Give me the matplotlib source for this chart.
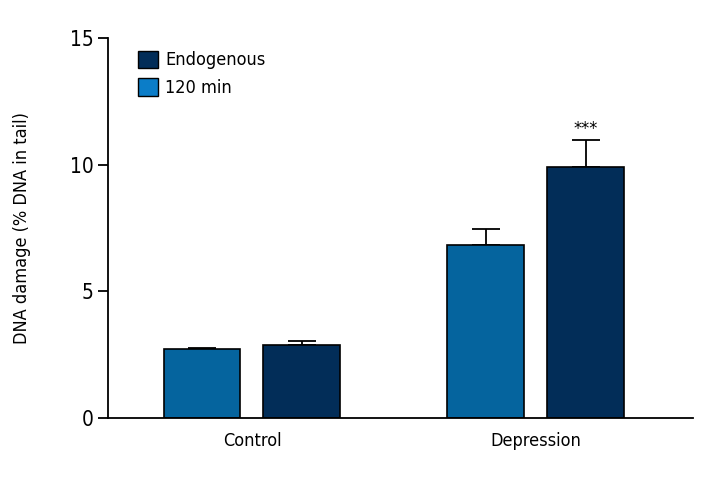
import matplotlib.pyplot as plt
from matplotlib.patches import Patch
import numpy as np

plt.rcParams['font.family'] = ['DejaVu Sans']
plt.rcParams['font.stretch'] = 'condensed'

groups = ["Control", "Depression"]
series = ["120 min", "Endogenous"]
values_120 = [2.72, 6.83]
err_120 = [0.06, 0.65]
values_endo = [2.88, 9.91]
err_endo = [0.18, 1.08]
stars = ["", "***"]

col_120 = "#05649E"
col_endo = "#022D58"
col_legend_120 = "#0B7DC8"


def main():
    fig = plt.figure(figsize=(7.2, 4.8), dpi=100)
    ax = fig.add_axes([0.15, 0.129, 0.8125, 0.792])

    x = np.arange(len(groups))
    w = 0.271
    off = 0.176
    ax.bar(x - off, values_120, w, color=col_120, edgecolor="black", linewidth=1.2, zorder=2)
    ax.bar(x + off, values_endo, w, color=col_endo, edgecolor="black", linewidth=1.2, zorder=2)
    ax.errorbar(x - off, values_120, yerr=[np.zeros(len(groups)), err_120], fmt="none",
                ecolor="black", elinewidth=1.3, capsize=10, capthick=1.3, zorder=1)
    ax.errorbar(x + off, values_endo, yerr=[np.zeros(len(groups)), err_endo], fmt="none",
                ecolor="black", elinewidth=1.3, capsize=10, capthick=1.3, zorder=1)

    # significance marks
    for i, s in enumerate(stars):
        if s:
            ax.text(x[i] + off, values_endo[i] + err_endo[i] + 0.05, s,
                    ha="center", va="bottom", fontsize=13)

    ax.set_xlim(-0.507, 1.553)
    ax.set_ylim(0, 15)
    ax.set_yticks([0, 5, 10, 15])
    ax.set_xticks(x)
    ax.set_xticklabels(groups, fontsize=13)
    ax.tick_params(axis="x", length=0, pad=10)
    ax.tick_params(axis="y", length=7, width=1.3, labelsize=15)
    ax.set_ylabel("DNA damage (% DNA in tail)", fontsize=13, labelpad=28)
    for side in ["top", "right"]:
        ax.spines[side].set_visible(False)
    for side in ["left", "bottom"]:
        ax.spines[side].set_linewidth(1.3)

    handles = [Patch(facecolor=col_endo, edgecolor="black", label="Endogenous"),
               Patch(facecolor=col_legend_120, edgecolor="black", label="120 min")]
    ax.legend(handles=handles, loc="upper left", bbox_to_anchor=(0.03, 1.0), frameon=False,
              fontsize=13, handlelength=1.1, handleheight=1.1, handletextpad=0.4,
              labelspacing=0.5, borderaxespad=0.3)

    fig.savefig("out.png", dpi=100)


if __name__ == '__main__':
    main()
